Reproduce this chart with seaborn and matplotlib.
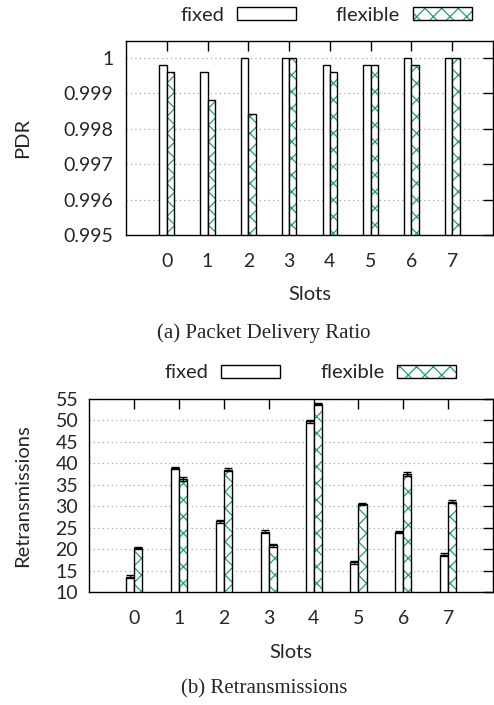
import numpy as np
import pandas as pd
import matplotlib
matplotlib.use("Agg")
import matplotlib.pyplot as plt
import seaborn as sns
from matplotlib.patches import Patch, Rectangle
from matplotlib.legend_handler import HandlerTuple

slots = [0, 1, 2, 3, 4, 5, 6, 7]
schemes = ["fixed", "flexible"]
pdr_fixed = [0.9998, 0.9996, 1.0, 1.0, 0.9998, 0.9998, 1.0, 1.0]
pdr_flexible = [0.9996, 0.9988, 0.9984, 1.0, 0.9996, 0.9998, 0.9998, 1.0]
retx_fixed = [13.6, 38.9, 26.5, 24.1, 49.8, 16.9, 24.0, 18.7]
retx_flexible = [20.3, 36.3, 38.5, 20.9, 53.8, 30.5, 37.5, 31.1]
retx_fixed_err = [0.3, 0.3, 0.3, 0.3, 0.3, 0.3, 0.3, 0.3]
retx_flexible_err = [0.3, 0.5, 0.3, 0.3, 0.3, 0.3, 0.4, 0.3]
pdr_ticks = [0.995, 0.996, 0.997, 0.998, 0.999, 1.0]
pdr_ticklabels = ["0.995", "0.996", "0.997", "0.998", "0.999", "1"]
retx_ticks = [10, 15, 20, 25, 30, 35, 40, 45, 50, 55]

GREEN = "#1aa37a"
FONT = "Lato"
FS = 14

sns.set_style("white")
plt.rcParams["font.family"] = [FONT, "DejaVu Sans"]
plt.rcParams["hatch.linewidth"] = 0.9

fig = plt.figure(figsize=(4.94, 7.05), dpi=100)
ax1 = fig.add_axes([126 / 494, 1 - 235 / 705, 367 / 494, 194 / 705])
ax2 = fig.add_axes([89.3 / 494, 1 - 592 / 705, 403.7 / 494, 193 / 705])


def make_df(a, b):
    return pd.DataFrame({
        "slot": slots * 2,
        "scheme": [schemes[0]] * len(slots) + [schemes[1]] * len(slots),
        "value": list(a) + list(b),
    })


def style_bars(ax):
    cont_fixed, cont_flex = ax.containers[0], ax.containers[1]
    for p in cont_fixed:
        p.set_facecolor("white")
        p.set_edgecolor("black")
        p.set_linewidth(1.0)
    for p in cont_flex:
        p.set_facecolor("white")
        p.set_edgecolor(GREEN)
        p.set_hatch("xx")
        p.set_linewidth(0)
        r = Rectangle((p.get_x(), p.get_y()), p.get_width(), p.get_height(),
                      facecolor="none", edgecolor="black", linewidth=1.0, zorder=p.get_zorder() + 0.1)
        ax.add_patch(r)
    return cont_fixed, cont_flex


def style_axes(ax, ylabel, ylab_x, xlab_y, ypad):
    ax.set_xlim(-1, 8)
    ax.set_xticks(range(len(slots)))
    ax.set_xticklabels([str(s) for s in slots])
    ax.set_xlabel("Slots", fontsize=FS + 0.5, va="center")
    ax.set_ylabel(ylabel, fontsize=FS + 0.5, va="center")
    ax.xaxis.set_label_coords(0.5, xlab_y)
    ax.yaxis.set_label_coords(ylab_x, 0.5)
    ax.tick_params(direction="in", length=7, width=1, top=True, right=True,
                   labelsize=FS, color="black")
    ax.tick_params(axis="x", pad=13)
    ax.tick_params(axis="y", pad=ypad)
    ax.yaxis.grid(True, linestyle=(0, (1, 3)), color="#999999", linewidth=0.8)
    ax.xaxis.grid(False)
    ax.set_axisbelow(True)
    for s in ax.spines.values():
        s.set_color("black")
        s.set_linewidth(1.0)


def add_legend(ax, x, y):
    h_fixed = Patch(facecolor="white", edgecolor="black", linewidth=1.0)
    h_flex = (Patch(facecolor="white", edgecolor=GREEN, hatch="xx", linewidth=0),
              Patch(facecolor="none", edgecolor="black", linewidth=1.0))
    ax.legend([h_fixed, h_flex], schemes, handler_map={tuple: HandlerTuple(ndivide=1, pad=0)},
              loc="center", bbox_to_anchor=(x, y), ncol=2, frameon=False,
              markerfirst=False, handlelength=2.9, handleheight=0.6,
              columnspacing=2.0, handletextpad=0.65, fontsize=FS + 0.5)


# (a) PDR
df1 = make_df(pdr_fixed, pdr_flexible)
sns.barplot(data=df1, x="slot", y="value", hue="scheme", hue_order=schemes,
            width=0.36, errorbar=None, ax=ax1, legend=False)
style_bars(ax1)
style_axes(ax1, "PDR", (22.5 - 126) / 367, (235 - 295) / 194, 9)
ax1.set_ylim(0.995, 1.00047)
ax1.set_yticks(pdr_ticks)
ax1.set_yticklabels(pdr_ticklabels)
add_legend(ax1, 0.545, 1.134)

# (b) Retransmissions
df2 = make_df(retx_fixed, retx_flexible)
sns.barplot(data=df2, x="slot", y="value", hue="scheme", hue_order=schemes,
            width=0.36, errorbar=None, ax=ax2, legend=False)
cf, cx = style_bars(ax2)
for cont, err in ((cf, retx_fixed_err), (cx, retx_flexible_err)):
    xs = [p.get_x() + p.get_width() / 2 for p in cont]
    ys = [p.get_height() for p in cont]
    ax2.errorbar(xs, ys, yerr=err, fmt="none", ecolor="black", elinewidth=1,
                 capsize=3, capthick=1, zorder=5)
style_axes(ax2, "Retransmissions", (23 - 89.3) / 403.7, (592 - 653) / 193, 8)
ax2.set_ylim(10, 55)
ax2.set_yticks(retx_ticks)
add_legend(ax2, 0.547, 1.135)

fig.text(264 / 494, 1 - 333 / 705, "(a) Packet Delivery Ratio", ha="center", va="center",
         fontsize=15, family="Liberation Serif")
fig.text(264 / 494, 1 - 689 / 705, "(b) Retransmissions", ha="center", va="center",
         fontsize=15, family="Liberation Serif")

fig.savefig("out.png", dpi=100)
